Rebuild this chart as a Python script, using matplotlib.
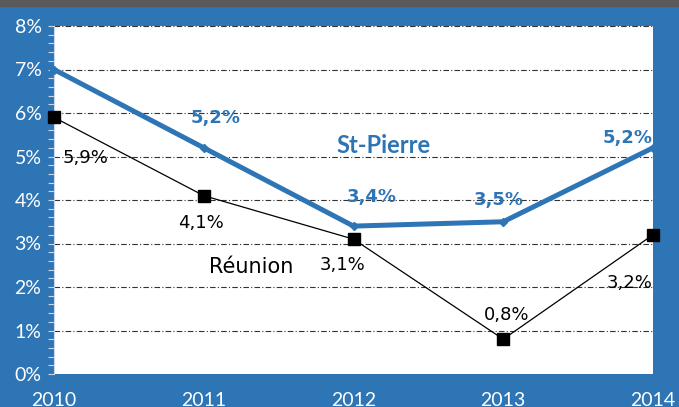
import matplotlib.pyplot as plt
from matplotlib.ticker import MultipleLocator, FuncFormatter

plt.rcParams['font.family'] = ['Lato', 'DejaVu Sans']

years = [2010, 2011, 2012, 2013, 2014]
st_pierre = [7.0, 5.2, 3.4, 3.5, 5.2]
reunion = [5.9, 4.1, 3.1, 0.8, 3.2]
st_pierre_labels = [None, "5,2%", "3,4%", "3,5%", "5,2%"]
reunion_labels = ["5,9%", "4,1%", "3,1%", "0,8%", "3,2%"]

BLUE = "#2e75b6"
FRAME = "#2e75b6"
LABEL_FONT = ["DejaVu Sans"]

W, H = 679, 407
fig = plt.figure(figsize=(W / 100, H / 100), dpi=100, facecolor=FRAME)
# dark strip along the top edge
fig.patches.append(plt.Rectangle((0, 1 - 6 / H), 1, 6 / H, transform=fig.transFigure,
                                 color="#5a5a5a", zorder=0))

ax = fig.add_axes([54 / W, (H - 374) / H, (653 - 54) / W, (374 - 26) / H])
ax.set_facecolor("white")
ax.set_xlim(2010, 2014)
ax.set_ylim(0, 8)

# gridlines
for y in range(1, 9):
    ax.axhline(y, color="#333333", lw=0.8, ls=(0, (5, 2, 1, 2)), zorder=1)

# Réunion series
ax.plot(years, reunion, color="black", lw=0.9, marker="s", ms=9,
        mfc="black", mec="black", zorder=3, clip_on=False)
# St-Pierre series
ax.plot(years, st_pierre, color=BLUE, lw=3.6, marker="D", ms=4,
        mfc=BLUE, mec=BLUE, zorder=4, clip_on=False, solid_capstyle="butt")

# value labels (offsets from each point, text baseline)
sp_offsets = [None, (0.08, 0.57, "center"), (0.12, 0.55, "center"),
              (-0.03, 0.38, "center"), (-0.005, 0.11, "right")]
for x, v, lab, off in zip(years, st_pierre, st_pierre_labels, sp_offsets):
    if lab is None:
        continue
    dx, dy, ha = off
    ax.text(x + dx, v + dy, lab, color=BLUE, fontsize=13, fontweight="bold",
            family=LABEL_FONT, ha=ha, va="baseline", zorder=5)

re_offsets = [(0.21, -1.05, "center"), (-0.02, -0.74, "center"), (-0.07, -0.71, "center"),
              (0.025, 0.44, "center"), (-0.005, -1.22, "right")]
for x, v, lab, (dx, dy, ha) in zip(years, reunion, reunion_labels, re_offsets):
    ax.text(x + dx, v + dy, lab, color="black", fontsize=13, family=LABEL_FONT,
            ha=ha, va="baseline", zorder=5)

ax.text(2012.20, 5.08, "St-Pierre", color=BLUE, fontsize=17, fontweight="bold",
        ha="center", va="baseline", zorder=5)
ax.text(2011.32, 2.32, "Réunion", color="black", fontsize=15, family=LABEL_FONT,
        ha="center", va="baseline", zorder=5)

# axes styling
for s in ["top", "right", "bottom"]:
    ax.spines[s].set_visible(False)
ax.spines["left"].set_color("#c8d6e8")
ax.spines["left"].set_linewidth(0.8)

ax.yaxis.set_major_locator(MultipleLocator(1))
ax.yaxis.set_minor_locator(MultipleLocator(0.2))
ax.yaxis.set_major_formatter(FuncFormatter(lambda v, p: f"{int(round(v))}%"))
ax.tick_params(axis="y", which="both", direction="out", length=4, width=0.8,
               color="#c8d6e8", labelcolor="white", labelsize=14, pad=5)
ax.set_xticks(years)
ax.set_xticklabels([str(y) for y in years])
ax.tick_params(axis="x", length=0, labelcolor="white", labelsize=14, pad=13)

fig.savefig("out.png", dpi=100, facecolor=FRAME)
